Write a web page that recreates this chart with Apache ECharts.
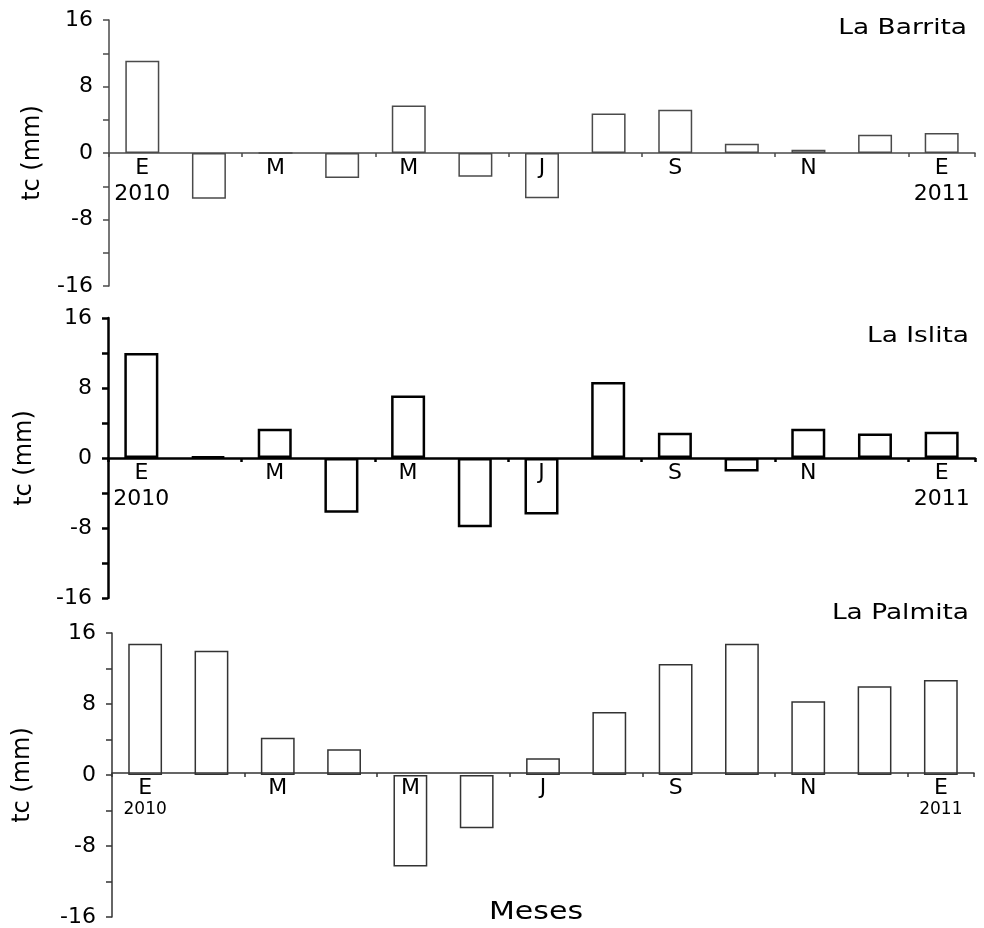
<!DOCTYPE html>
<html>
<head>
<meta charset="utf-8">
<script src="https://cdn.jsdelivr.net/npm/echarts@6/dist/echarts.min.js"></script>
<style>
  html, body { margin: 0; padding: 0; background: #ffffff; }
  #chart { width: 984px; height: 928px; }
</style>
</head>
<body>
<div id="chart"></div>
<script>
// ---- data ----
const months = ['E', 'F', 'M', 'A', 'M', 'J', 'J', 'A', 'S', 'O', 'N', 'D', 'E'];
const yearStart = '2010';
const yearEnd = '2011';
const stations = ['La Barrita', 'La Islita', 'La Palmita'];
const barrita = [11.1, -5.5, 0, -3.0, 5.7, -2.85, -5.45, 4.75, 5.2, 1.1, 0.4, 2.2, 2.4];
const islita = [12.0, 0.15, 3.35, -6.25, 7.15, -7.9, -6.45, 8.7, 2.9, -1.55, 3.35, 2.8, 3.0];
const palmita = [14.8, 14.0, 4.2, 2.9, -10.3, -6.0, 1.9, 7.1, 12.5, 14.8, 8.3, 10.0, 10.7];
const yMin = -16, yMax = 16, yStep = 4, yLabelStep = 8;
const yName = 'tc (mm)';
const xName = 'Meses';

// ---- layout / style ----
const FONT = 'DejaVu Sans';
const panels = [
  { data: barrita, grid: { left: 109, right: 9, top: 20, height: 266 }, color: '#4a4a4a', lw: 1.5, nameGap: 64, yearSmall: false, title: { x: 967, y: 28 } },
  { data: islita,  grid: { left: 108, right: 9, top: 318, height: 280 }, color: '#000000', lw: 2.5, nameGap: 71, yearSmall: false, title: { x: 969, y: 336 } },
  { data: palmita, grid: { left: 112, right: 10, top: 633, height: 288 }, color: '#333333', lw: 1.5, nameGap: 77, yearSmall: true, title: { x: 969, y: 613 } }
];

function labelFmt(small) {
  return function (v, i) {
    const yr = i === 0 ? yearStart : (i === months.length - 1 ? yearEnd : null);
    if (yr === null) return '{m|' + v + '}';
    return '{m|' + v + '}\n' + (small ? '{s|' + yr + '}' : '{m|' + yr + '}');
  };
}

// x axis sits on the zero line: shift it up from the grid bottom by the
// pixel distance of 0 above the axis minimum
function zeroOffset(p) {
  return -p.grid.height * (0 - yMin) / (yMax - yMin);
}

const option = {
  animation: false,
  backgroundColor: '#ffffff',
  textStyle: { fontFamily: FONT },
  grid: panels.map(p => p.grid),
  xAxis: panels.map((p, k) => ({
    type: 'category',
    gridIndex: k,
    data: months,
    boundaryGap: true,
    position: 'bottom',
    offset: zeroOffset(p),
    z: 5,
    axisLine: { onZero: false, lineStyle: { color: p.color, width: p.lw } },
    axisTick: { show: true, length: 4, alignWithLabel: false, lineStyle: { color: p.color, width: p.lw } },
    axisLabel: {
      interval: 1,
      margin: 2,
      color: '#000',
      formatter: labelFmt(p.yearSmall),
      rich: {
        m: { fontFamily: FONT, fontSize: 22, lineHeight: 26, color: '#000' },
        s: { fontFamily: FONT, fontSize: 17, lineHeight: 18, color: '#000' }
      }
    },
    splitLine: { show: false }
  })),
  yAxis: panels.map((p, k) => ({
    type: 'value',
    gridIndex: k,
    min: yMin, max: yMax, interval: yStep,
    name: yName,
    nameLocation: 'middle',
    nameGap: p.nameGap,
    nameRotate: 90,
    nameTextStyle: { fontFamily: FONT, fontSize: 24, color: '#000' },
    axisLine: { show: true, onZero: false, lineStyle: { color: p.color, width: p.lw } },
    axisTick: { show: true, length: 6, inside: false, lineStyle: { color: p.color, width: p.lw } },
    axisLabel: {
      margin: 16,
      color: '#000',
      fontFamily: FONT,
      fontSize: 22,
      formatter: v => (v % yLabelStep === 0 ? String(v) : '')
    },
    splitLine: { show: false }
  })),
  series: panels.map((p, k) => ({
    type: 'bar',
    xAxisIndex: k,
    yAxisIndex: k,
    z: 1,
    data: p.data,
    barWidth: '51%',
    itemStyle: { color: '#ffffff', borderColor: p.color, borderWidth: p.lw }
  })),
  graphic: panels.map((p, k) => ({
    type: 'text',
    x: p.title.x,
    y: p.title.y,
    scaleX: 1.2,
    style: {
      text: stations[k],
      x: 0, y: 0,
      textAlign: 'right',
      textVerticalAlign: 'middle',
      font: '22px "' + FONT + '"',
      fill: '#000'
    }
  })).concat([{
    type: 'text',
    x: 536,
    y: 913,
    scaleX: 1.25,
    style: {
      text: xName,
      x: 0, y: 0,
      textAlign: 'center',
      textVerticalAlign: 'middle',
      font: '24px "' + FONT + '"',
      fill: '#000'
    }
  }])
};

const chart = echarts.init(document.getElementById('chart'), null, { renderer: 'canvas' });
chart.setOption(option);
</script>
</body>
</html>
